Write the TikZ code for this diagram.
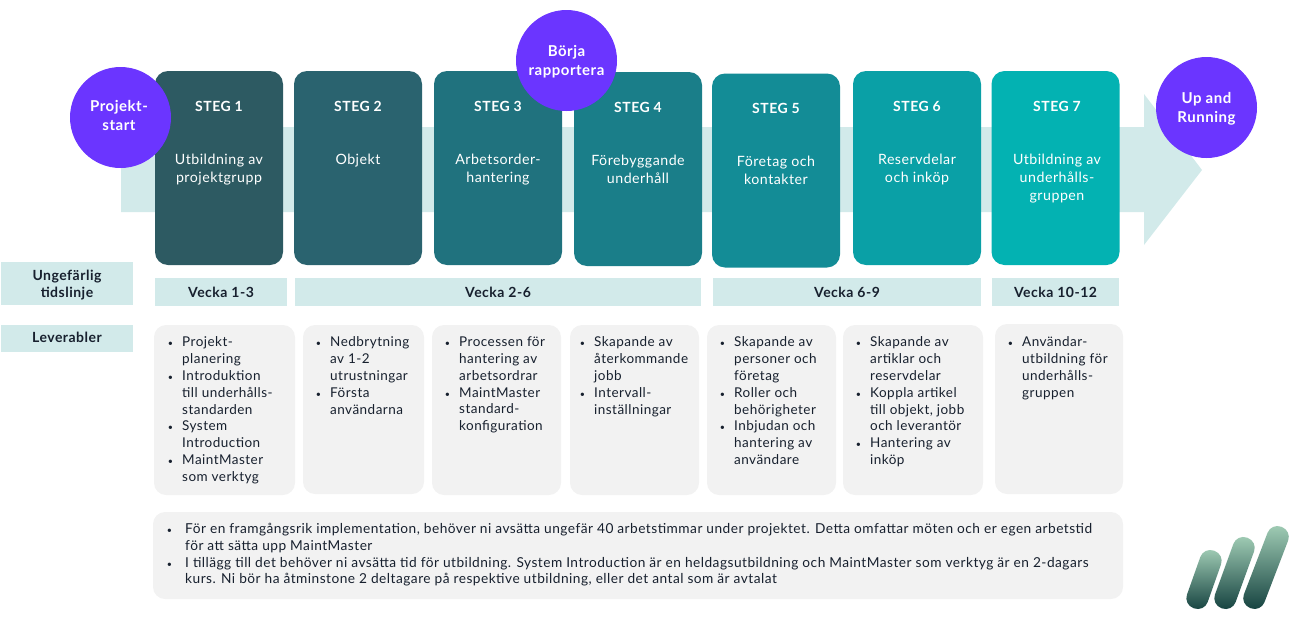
\documentclass[tikz,border=0pt]{standalone}
\usepackage{fontspec}
\setmainfont[LetterSpace=3.5]{Lato}
\usepackage{tikz}
\usetikzlibrary{positioning, calc}
\definecolor{Arrowbg}{HTML}{D2EAEA}
\definecolor{Violet}{HTML}{6B35FF}
\definecolor{Panel}{HTML}{F2F2F2}
\definecolor{Ink}{HTML}{17202E}
\definecolor{StegA}{HTML}{2D5A62}
\definecolor{StegB}{HTML}{2A636F}
\definecolor{StegC}{HTML}{20727E}
\definecolor{StegD}{HTML}{1A7E89}
\definecolor{StegE}{HTML}{138C96}
\definecolor{StegF}{HTML}{0AA0A6}
\definecolor{StegG}{HTML}{03B2B2}
\definecolor{LogoTop}{HTML}{A3CFB7}
\definecolor{LogoMid}{HTML}{3E7F70}
\definecolor{LogoLow}{HTML}{123F3D}
\tikzset{
  stegbox/.style={rounded corners=13pt, minimum width=128pt, minimum height=194pt, inner sep=0pt},
  stegtitle/.style={text=white, font=\fontsize{14}{18}\selectfont\bfseries, inner sep=0pt},
  stegtext/.style={text=white, align=center, font=\fontsize{14.2}{18}\selectfont, inner sep=0pt},
  milestone/.style={circle, fill=Violet, minimum size=101pt, inner sep=0pt},
  milestonetext/.style={text=white, align=center, inner sep=0pt, font=\fontsize{15}{19}\selectfont\bfseries},
  band/.style={fill=Arrowbg, inner sep=0pt, text=Ink, align=center, font=\fontsize{14}{17}\selectfont\bfseries},
  bandtext/.style={inner sep=0pt, text=Ink, align=center, font=\fontsize{14}{17}\selectfont\bfseries},
  panel/.style={fill=Panel, rounded corners=12pt, inner sep=0pt},
  listtext/.style={anchor=north west, inner sep=0pt, text=Ink, align=left, font=\fontsize{13.5}{16.85}\selectfont},
  notetext/.style={anchor=north west, inner sep=0pt, text=Ink, align=left, font=\fontsize{13.7}{16.8}\selectfont},
  pill/.style={rounded corners=10.5pt, minimum height=22pt, inner sep=0pt, top color=LogoTop, middle color=LogoMid, bottom color=LogoLow},
}
\newcommand{\itm}{\llap{{\fontsize{9}{9}\selectfont•}\hspace{9pt}}}
\newcommand{\noteitm}{\llap{{\fontsize{9}{9}\selectfont•}\hspace{13pt}}}
\begin{document}
\begin{tikzpicture}[x=1pt, y=-1pt]
  \useasboundingbox (0,0) rectangle (1302,627);
  % pil i bakgrunden
  \fill[Arrowbg] (121,127) -- (1144,127) -- (1144,94) -- (1202,170) -- (1144,245) -- (1144,212) -- (121,212) -- cycle;

  \node[stegbox, fill=StegA] (box1) at (219,168) {};
  \node[stegbox, fill=StegB] (box2) at (358,168) {};
  \node[stegbox, fill=StegC] (box3) at (498,168) {};
  \node[stegbox, fill=StegD] (box4) at (638,169) {};
  \node[stegbox, fill=StegE] (box5) at (776,170.5) {};
  \node[stegbox, fill=StegF] (box6) at (917,168) {};
  \node[stegbox, fill=StegG] (box7) at (1055.5,168) {};

  \node[stegtitle] (title1) at (219,106) {STEG 1};
  \node[stegtitle] (title2) at (358,106) {STEG 2};
  \node[stegtitle] (title3) at (498,106) {STEG 3};
  \node[stegtitle] (title4) at (638,107) {STEG 4};
  \node[stegtitle] (title5) at (776,108) {STEG 5};
  \node[stegtitle] (title6) at (917,106) {STEG 6};
  \node[stegtitle] (title7) at (1057,106) {STEG 7};

  \node[stegtext] (text1) at (219,170) {Utbildning av\\projektgrupp};
  \node[stegtext] (text2) at (358,161) {Objekt};
  \node[stegtext] (text3) at (498,170) {Arbetsorder-\\hantering};
  \node[stegtext] (text4) at (638,169) {Förebyggande\\underhåll};
  \node[stegtext] (text5) at (776,170) {Företag och\\kontakter};
  \node[stegtext] (text6) at (917,169.5) {Reservdelar\\och inköp};
  \node[stegtext] (text7) at (1057,178.5) {Utbildning av\\underhålls-\\gruppen};

  \node[milestone] (start) at (120.5,117.5) {};
  \node[milestone] (report) at (566.5,60.5) {};
  \node[milestone] (running) at (1206.5,107.5) {};
  \node[milestonetext] (starttext) at (119,115.5) {Projekt-\\start};
  \node[milestonetext] (reporttext) at (566.5,62) {Börja\\rapportera};
  \node[milestonetext] (runningtext) at (1206.5,109) {Up and\\Running};

  % tidslinje
  \node[band, minimum width=132pt, minimum height=43pt] (timeline) at (67,283.5) {};
  \node[bandtext] (timelinetext) at (67,285) {Ungefärlig\\tidslinje};
  \node[band, minimum width=132pt, minimum height=28pt] (week1) at (221,292) {Vecka 1-3};
  \node[band, minimum width=406pt, minimum height=28pt] (week2) at (498,292) {Vecka 2-6};
  \node[band, minimum width=268pt, minimum height=28pt] (week3) at (847,292) {Vecka 6-9};
  \node[band, minimum width=127pt, minimum height=28pt] (week4) at (1055.5,292) {Vecka 10-12};
  \node[band, minimum width=132pt, minimum height=27pt] (deliver) at (67,338.5) {};
  \node[bandtext] (delivertext) at (67,337.5) {Leverabler};

  % leverabler
  \node[panel, minimum width=141pt, minimum height=170pt] (panel1) at (224.5,410) {};
  \node[panel, minimum width=121pt, minimum height=169pt] (panel2) at (363.5,409.5) {};
  \node[panel, minimum width=129pt, minimum height=170pt] (panel3) at (496.5,410) {};
  \node[panel, minimum width=129pt, minimum height=170pt] (panel4) at (634.5,410) {};
  \node[panel, minimum width=129pt, minimum height=170pt] (panel5) at (771.5,410) {};
  \node[panel, minimum width=140pt, minimum height=170pt] (panel6) at (913,410) {};
  \node[panel, minimum width=128pt, minimum height=170pt] (panel7) at (1059,409) {};
  \node[panel, minimum width=970pt, minimum height=87pt] (notes) at (638,555.5) {};

  \node[listtext] (list1) at (182,336.5) {\itm Projekt-\\planering\\\itm Introduktion\\till underhålls-\\standarden\\\itm System\\Introduction\\\itm MaintMaster\\som verktyg};
  \node[listtext] (list2) at (330,336.5) {\itm Nedbrytning\\av 1-2\\utrustningar\\\itm Första\\användarna};
  \node[listtext] (list3) at (459,336.5) {\itm Processen för\\hantering av\\arbetsordrar\\\itm MaintMaster\\standard-\\konfiguration};
  \node[listtext] (list4) at (594,336.5) {\itm Skapande av\\återkommande\\jobb\\\itm Intervall-\\inställningar};
  \node[listtext] (list5) at (734,336.5) {\itm Skapande av\\personer och\\företag\\\itm Roller och\\behörigheter\\\itm Inbjudan och\\hantering av\\användare};
  \node[listtext] (list6) at (870,336.5) {\itm Skapande av\\artiklar och\\reservdelar\\\itm Koppla artikel\\till objekt, jobb\\och leverantör\\\itm Hantering av\\inköp};
  \node[listtext] (list7) at (1022,336.5) {\itm Användar-\\utbildning för\\underhålls-\\gruppen};

  \node[notetext] (notelist) at (185,523) {\noteitm För en framgångsrik implementation, behöver ni avsätta ungefär 40 arbetstimmar under projektet. Detta omfattar möten och er egen arbetstid\\för att sätta upp MaintMaster\\\noteitm I tillägg till det behöver ni avsätta tid för utbildning. System Introduction är en heldagsutbildning och MaintMaster som verktyg är en 2-dagars\\kurs. Ni bör ha åtminstone 2 deltagare på respektive utbildning, eller det antal som är avtalat};

  % logotyp
  \node[pill, minimum width=61pt, rotate=70.5] (logo1) at (1204,579.5) {};
  \node[pill, minimum width=75pt, rotate=70] (logo2) at (1234.5,573) {};
  \node[pill, minimum width=87pt, rotate=69] (logo3) at (1266,567.5) {};
\end{tikzpicture}
\end{document}
